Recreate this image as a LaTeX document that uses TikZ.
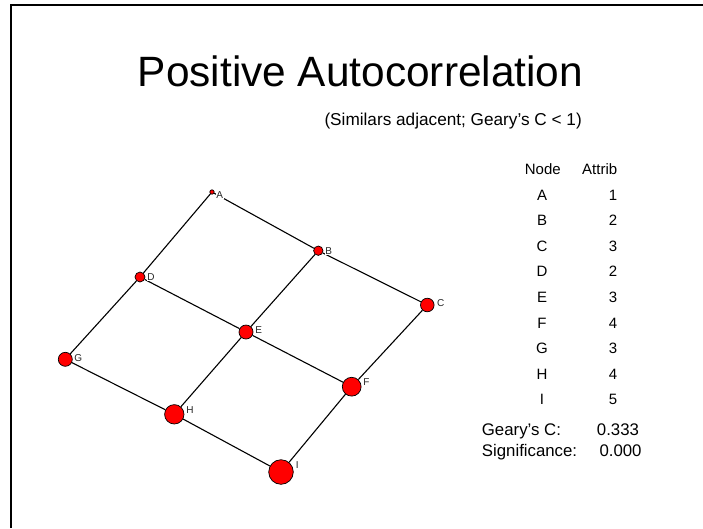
\documentclass[tikz,border=0pt]{standalone}
\usepackage{fontspec}
\setmainfont{Liberation Sans}
\begin{document}
\begin{tikzpicture}[x=1pt,y=-1pt,
  vtx/.style={circle,draw=black,fill=red,line width=0.7pt,inner sep=0pt,minimum size=#1},
  vlab/.style={anchor=west,fill=white,inner sep=0.6pt,text=black!85,font=\fontsize{10}{11}\selectfont},
  edge/.style={draw=black,line width=1.1pt},
  txt/.style={inner sep=0pt,anchor=base},
  tabtxt/.style={txt,font=\fontsize{15}{17}\selectfont},
  stattxt/.style={inner sep=0pt,anchor=base west,font=\fontsize{16.8}{19}\selectfont}]
\useasboundingbox (0,0) rectangle (703,528);
\fill[white] (0,0) rectangle (703,528);
% frame
\draw[line width=2pt] (11,528) -- (11,5) -- (703,5);
% title
\node[txt,font=\fontsize{42.4}{48}\selectfont] (title) at (360.5,86.5) {Positive Autocorrelation};
\node[inner sep=0pt,anchor=base east,font=\fontsize{17.2}{20}\selectfont] (sub) at (582,125) {(Similars adjacent; Geary’s C < 1)};
% vertices
\node[vtx=4.4pt] (A) at (212,192) {};
\node[vtx=9.4pt] (B) at (318.3,250.7) {};
\node[vtx=13.6pt] (C) at (427.3,305) {};
\node[vtx=10pt] (D) at (140,277) {};
\node[vtx=14pt] (E) at (246,332) {};
\node[vtx=18.8pt] (F) at (351.7,386.7) {};
\node[vtx=14pt] (G) at (65.3,359.3) {};
\node[vtx=19.4pt] (H) at (174.3,414.3) {};
\node[vtx=24.6pt] (I) at (281,472) {};
% edges
\draw[edge] (A) -- (B);
\draw[edge] (B) -- (C);
\draw[edge] (A) -- (D);
\draw[edge] (B) -- (E);
\draw[edge] (C) -- (F);
\draw[edge] (D) -- (E);
\draw[edge] (E) -- (F);
\draw[edge] (D) -- (G);
\draw[edge] (E) -- (H);
\draw[edge] (F) -- (I);
\draw[edge] (G) -- (H);
\draw[edge] (H) -- (I);
% vertex labels
\node[vlab] (lA) at (215.5,195) {A};
\node[vlab] (lB) at (324.5,251) {B};
\node[vlab] (lC) at (436.3,303.5) {C};
\node[vlab] (lD) at (146.5,277) {D};
\node[vlab] (lE) at (254.5,330.5) {E};
\node[vlab] (lF) at (362.5,382.5) {F};
\node[vlab] (lG) at (73.5,357.8) {G};
\node[vlab] (lH) at (185.5,410) {H};
\node[vlab] (lI) at (295,465) {I};
% table
\node[tabtxt] (hN) at (542.8,174) {Node};
\node[tabtxt] (hA) at (599.7,174) {Attrib};
\foreach \l/\v [count=\k from 0] in {A/1,B/2,C/3,D/2,E/3,F/4,G/3,H/4,I/5}{
  \node[tabtxt] (t\l) at (542,200+25.6*\k) {\l};
  \node[tabtxt] (v\l) at (613,200+25.6*\k) {\v};
}
\node[stattxt] (gc) at (481.7,435) {Geary’s C:};
\node[stattxt] (gcv) at (596.7,435) {0.333};
\node[stattxt] (sig) at (481.7,456.5) {Significance:};
\node[stattxt] (sigv) at (599.3,456.5) {0.000};
\end{tikzpicture}
\end{document}
